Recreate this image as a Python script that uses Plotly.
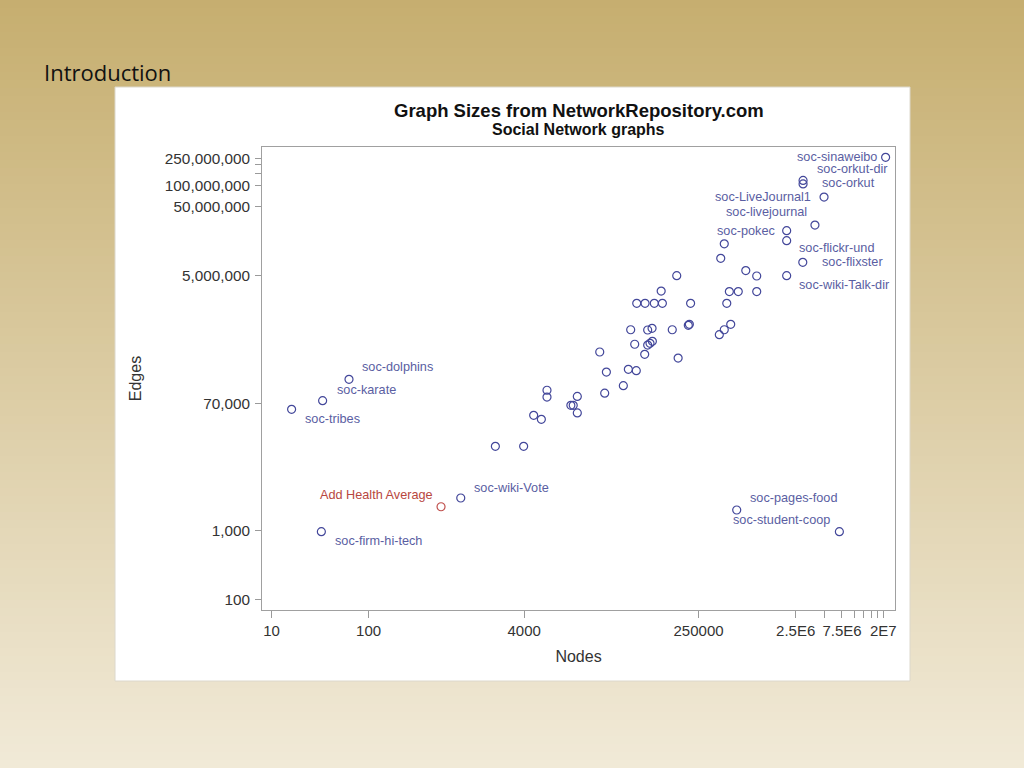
import math
import plotly.graph_objects as go

# ---------------- data ----------------
graph_names = [
    "soc-sinaweibo", "soc-orkut-dir", "soc-orkut", "soc-LiveJournal1", "soc-livejournal",
    "soc-pokec", "soc-flickr-und", "soc-flixster", "soc-wiki-Talk-dir",
    "soc-dolphins", "soc-karate", "soc-tribes", "soc-wiki-Vote", "soc-firm-hi-tech",
    "soc-pages-food", "soc-student-coop",
    "", "", "", "", "", "", "", "", "", "", "", "", "", "", "", "", "", "", "", "", "", "", "", "",
    "", "", "", "", "", "", "", "", "", "", "", "", "", "", "", "", "", "", "", "", "", "",
]
graph_nodes = [
    2.11e7, 2.98e6, 2.98e6, 4.9e6, 3.95e6,
    2.02e6, 2.02e6, 2.96e6, 2.02e6,
    62.8, 33.6, 16.1, 889, 32.6,
    6.18e5, 7.05e6,
    4.6e5, 4.23e5, 7.66e5, 9.93e5, 5.19e5, 6.41e5, 9.93e5, 1.49e5, 1.03e5, 5.77e4,
    7.03e4, 8.75e4, 1.06e5, 2.07e5, 4.88e5, 5.0e4, 7.48e4, 8.3e4, 1.34e5, 1.96e5,
    2.01e5, 4.09e5, 4.6e5, 5.36e5, 5.5e4, 7.48e4, 7.91e4, 8.36e4, 6.97e4, 1.54e5,
    2.4e4, 2.81e4, 4.73e4, 5.71e4, 4.2e4, 2.7e4, 1.41e4, 6.87e3, 6.87e3, 1.21e4,
    1.28e4, 1.41e4, 5.01e3, 6.01e3, 2.02e3, 3.95e3,
]
graph_edges = [
    2.57e8, 1.19e8, 1.06e8, 6.84e7, 2.69e7,
    2.23e7, 1.6e7, 7.76e6, 4.97e6,
    1.57e5, 7.7e4, 5.77e4, 3.0e3, 975,
    2.01e3, 975,
    1.44e7, 8.87e6, 5.9e6, 4.92e6, 2.93e6, 2.93e6, 2.93e6, 4.97e6, 2.98e6, 1.98e6,
    1.98e6, 1.98e6, 1.98e6, 1.98e6, 1.98e6, 8.2e5, 8.13e5, 8.59e5, 8.2e5, 9.5e5,
    9.82e5, 6.95e5, 8.2e5, 9.82e5, 5.05e5, 4.92e5, 5.21e5, 5.57e5, 3.61e5, 3.19e5,
    3.9e5, 2.0e5, 2.19e5, 2.09e5, 1.27e5, 9.89e4, 8.87e4, 1.09e5, 8.69e4, 6.59e4,
    6.59e4, 5.11e4, 4.72e4, 4.14e4, 1.68e4, 1.68e4,
]
addhealth_name = "Add Health Average"
addhealth_nodes = [557]
addhealth_edges = [2240]

x_tick_values = [10, 100, 4000, 250000, 2.5e6, 5e6, 7.5e6, 1e7, 1.25e7, 1.5e7, 1.75e7, 2e7]
x_tick_labels = ["10", "100", "4000", "250000", "2.5E6", "", "7.5E6", "", "", "", "", "2E7"]
y_tick_values = [100, 1000, 70000, 5e6, 5e7, 1e8, 1.5e8, 2e8, 2.5e8]
y_tick_labels = ["100", "1,000", "70,000", "5,000,000", "50,000,000", "100,000,000", "", "", "250,000,000"]

# ---------------- style / placement ----------------
label_place = {  # name: (xanchor, xshift, yshift)
    "soc-sinaweibo": ("right", -7, 0),
    "soc-orkut-dir": ("left", 12, 11),
    "soc-orkut": ("left", 17, 1),
    "soc-LiveJournal1": ("right", -11, 0),
    "soc-livejournal": ("right", -6, 13),
    "soc-pokec": ("right", -10, 0),
    "soc-flickr-und": ("left", 10, -7),
    "soc-flixster": ("left", 17, 0),
    "soc-wiki-Talk-dir": ("left", 10, -9),
    "soc-dolphins": ("left", 11, 12),
    "soc-karate": ("left", 12, 11),
    "soc-tribes": ("left", 11, -10),
    "soc-wiki-Vote": ("left", 11, 10),
    "soc-firm-hi-tech": ("left", 12, -9),
    "soc-pages-food": ("left", 11, 12),
    "soc-student-coop": ("right", -7, 12),
}
BLUE = "#43479A"
LABEL_BLUE = "#5A5EA2"
RED = "#C0504D"
FONT = "Liberation Sans, Arial, sans-serif"
LABEL_SIZE = 12.7

W, H = 1024, 768
L, R, T, B = 262, 895, 147, 610
PW, PH = R - L, B - T


def px(xp):
    return (xp - L) / PW


def py(yp):
    return (B - yp) / PH


fig = go.Figure()
fig.add_trace(go.Scatter(
    x=graph_nodes, y=graph_edges, mode="markers",
    marker=dict(symbol="circle-open", size=8, color=BLUE, line=dict(width=1.2, color=BLUE)),
    showlegend=False, hoverinfo="skip",
))
fig.add_trace(go.Scatter(
    x=addhealth_nodes, y=addhealth_edges, mode="markers",
    marker=dict(symbol="circle-open", size=8, color=RED, line=dict(width=1.2, color=RED)),
    showlegend=False, hoverinfo="skip",
))

annotations = []
for name, xv, yv in zip(graph_names, graph_nodes, graph_edges):
    if not name:
        continue
    xa, xs, ys = label_place[name]
    annotations.append(dict(
        x=math.log10(xv), y=math.log10(yv), xref="x", yref="y", text=name, showarrow=False,
        xanchor=xa, yanchor="middle", xshift=xs, yshift=ys,
        font=dict(family=FONT, size=LABEL_SIZE, color=LABEL_BLUE),
    ))
annotations.append(dict(
    x=math.log10(addhealth_nodes[0]), y=math.log10(addhealth_edges[0]), xref="x", yref="y",
    text=addhealth_name, showarrow=False, xanchor="right", yanchor="middle", xshift=-6, yshift=12,
    font=dict(family=FONT, size=LABEL_SIZE, color="#B8473E"),
))
annotations += [
    dict(x=px(579), y=py(110), xref="paper", yref="paper", text="<b>Graph Sizes from NetworkRepository.com</b>",
         showarrow=False, xanchor="center", yanchor="middle",
         font=dict(family=FONT, size=18.5, color="#111111")),
    dict(x=px(578), y=py(130), xref="paper", yref="paper", text="<b>Social Network graphs</b>",
         showarrow=False, xanchor="center", yanchor="middle",
         font=dict(family=FONT, size=16, color="#111111")),
    dict(x=px(42), y=py(72), xref="paper", yref="paper", text="Introduction",
         showarrow=False, xanchor="left", yanchor="middle",
         font=dict(family="Liberation Sans Narrow, Open Sans, sans-serif", size=22, color="#111111")),
]

# background gradient bands
shapes = []
top_c = (198, 174, 111)
bot_c = (241, 234, 216)
band = 8
for i in range(0, H, band):
    t = (i + band / 2) / H
    c = tuple(round(top_c[k] + (bot_c[k] - top_c[k]) * t) for k in range(3))
    shapes.append(dict(type="rect", xref="paper", yref="paper", layer="below",
                       x0=px(-2), x1=px(W + 2), y0=py(i + band + 1), y1=py(i),
                       fillcolor="rgb(%d,%d,%d)" % c, line=dict(width=0)))
shapes.append(dict(type="rect", xref="paper", yref="paper", layer="below",
                   x0=px(115), x1=px(910), y0=py(681), y1=py(87),
                   fillcolor="white", line=dict(width=1, color="#DCD8CC")))

fig.update_layout(
    width=W, height=H,
    margin=dict(l=L, r=W - R, t=T, b=H - B, pad=0),
    paper_bgcolor="rgb(220,204,164)", plot_bgcolor="white",
    shapes=shapes, annotations=annotations,
    font=dict(family=FONT, color="#333333"),
    xaxis=dict(
        type="log", range=[0.902, 7.421], tickvals=x_tick_values, ticktext=x_tick_labels,
        ticks="outside", ticklen=7, tickcolor="#9A9A9A", tickwidth=1,
        showline=True, linecolor="#A0A0A0", linewidth=1, mirror=True,
        showgrid=False, zeroline=False,
        tickfont=dict(family=FONT, size=15, color="#333333"),
        title=dict(text="Nodes", font=dict(family=FONT, size=16, color="#333333"), standoff=12),
    ),
    yaxis=dict(
        type="log", range=[1.855, 8.56], tickvals=y_tick_values, ticktext=y_tick_labels,
        ticks="outside", ticklen=6, tickcolor="#9A9A9A", tickwidth=1,
        showline=True, linecolor="#A0A0A0", linewidth=1, mirror=True,
        showgrid=False, zeroline=False, ticklabelstandoff=2,
        tickfont=dict(family=FONT, size=15.3, color="#333333"),
        title=dict(text="Edges", font=dict(family=FONT, size=16, color="#333333"), standoff=19),
    ),
)

fig.write_html("out.html", config={"displayModeBar": False},
               post_script="document.body.style.margin='0';document.body.style.overflow='hidden';")
